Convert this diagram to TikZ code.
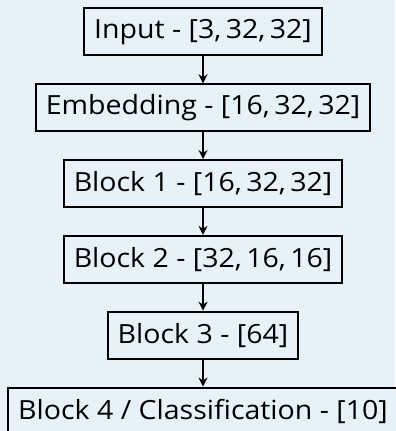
\documentclass[tikz,border=0pt]{standalone}
\usepackage{fontspec}
\setmainfont{Open Sans}[FakeStretch=1.08]
\usepackage{xcolor}
\usetikzlibrary{arrows.meta,positioning}
\definecolor{bgblue}{RGB}{230,242,247}

\begin{document}
\begin{tikzpicture}[x=0.5pt,y=-0.5pt,font=\fontsize{13.2}{15}\selectfont,
    layer/.style={draw,line width=1pt,fill=bgblue,minimum height=23.5pt,inner xsep=5pt},
    flow/.style={-{Stealth[length=4.5pt,width=4.5pt]},line width=0.85pt},
    node distance=13.4pt]
  \useasboundingbox (0,0) rectangle (395,431);
  \fill[bgblue] (0,0) rectangle (395,431);
  \node[layer] (inp) at (203,32) {Input - [3,\,32,\,32]};
  \node[layer,below=of inp] (emb) {Embedding - [16,\,32,\,32]};
  \node[layer,below=of emb] (blk1) {Block 1 - [16,\,32,\,32]};
  \node[layer,below=of blk1] (blk2) {Block 2 - [32,\,16,\,16]};
  \node[layer,below=of blk2] (blk3) {Block 3 - [64]};
  \node[layer,below=of blk3] (blk4) {Block 4 / Classification - [10]};
  \foreach \a/\b in {inp/emb,emb/blk1,blk1/blk2,blk2/blk3,blk3/blk4}
    \draw[flow] (\a) -- (\b);
\end{tikzpicture}
\end{document}
